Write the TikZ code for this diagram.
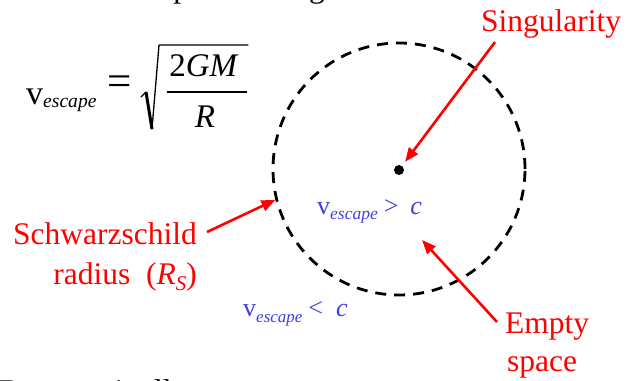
\documentclass[tikz,border=0pt]{standalone}
\usepackage{fix-cm}
\usepackage{fontspec}
\setmainfont{Liberation Serif}
\usetikzlibrary{arrows.meta}
\definecolor{lblred}{RGB}{255,0,0}
\definecolor{lblblue}{RGB}{64,64,224}
\newcommand{\setfs}[1]{\fontsize{#1}{#1}\selectfont}
\newcommand{\vescape}[3]{{\setfs{#1}v}\raisebox{-#3pt}{\setfs{#2}\itshape escape}}
\begin{document}
\begin{tikzpicture}[x=1pt,y=1pt,inner sep=0pt,
  redlbl/.style={text=lblred,font=\setfs{31.5}},
  bluelbl/.style={text=lblblue},
  plaintext/.style={text=black,font=\setfs{31.5}},
  redarrow/.style={draw=lblred,line width=2.6pt,-{Triangle[length=14pt,width=11pt]}},
  horizonline/.style={circle,draw=black,line width=2.8pt,dash pattern=on 11pt off 8pt},
  radline/.style={line width=1.3pt,line cap=round,line join=round}]
\useasboundingbox (0,0) rectangle (626,380);
\clip (0,0) rectangle (626,380);

% partial slide text, cut by the frame
\node[plaintext,anchor=base west] (toptext) at (105,382) {Collapse to a huge size};
\node[plaintext,anchor=base west] (bottomtext) at (-1,-21.5) {But now it all};

% formula
\node[anchor=base west] (vsym) at (26,275) {\vescape{34}{19.6}{3}};
\node[anchor=base west,font=\setfs{43}] (eqsign) at (107.5,284) {=};
\node[anchor=base,font=\setfs{33}] (numer) at (204,303) {2\textit{GM}};
\node[anchor=base,font=\setfs{33}] (denom) at (205,252) {\textit{R}};
\draw[line width=1.8pt] (167,288) -- (247,288);
\draw[radline] (141,283) -- (146,288);
\draw[line width=3pt,line join=round] (146,288) -- (152,251);
\draw[radline] (152,251) -- (159,335) -- (248,335);

% horizon and singularity
\node[horizonline,minimum size=252pt] (horizon) at (399,211) {};
\node[circle,fill=black,minimum size=10pt] (dot) at (399,210) {};

% labels
\node[redlbl,anchor=base] (sing) at (551,348) {Singularity};
\node[redlbl,anchor=base east] (schw) at (197,135) {Schwarzschild};
\node[redlbl,anchor=base east] (radius) at (197,95) {radius~~(\textit{R}\raisebox{-5pt}{\setfs{21}\itshape S})};
\node[redlbl,anchor=base west] (empty) at (505,46) {Empty};
\node[redlbl,anchor=base west] (space) at (507,9) {space};

\node[bluelbl,anchor=base west] (vin) at (317,165) {\vescape{26}{17.5}{5}\hspace{6pt}{\setfs{26}>}\hspace{12pt}{\setfs{26}\itshape c}};
\node[bluelbl,anchor=base west] (vout) at (243,63) {\vescape{26}{17}{5}\hspace{6pt}{\setfs{26}<}\hspace{13pt}{\setfs{26}\itshape c}};

% arrows
\coordinate (singtail) at (495,338);
\coordinate (schwtail) at (207,148);
\coordinate (emptytail) at (497,58);
\coordinate (emptytip) at (422,140);
\draw[redarrow,shorten >=5pt] (singtail) -- (dot);
\draw[redarrow] (schwtail) -- (horizon.194);
\draw[redarrow] (emptytail) -- (emptytip);
\end{tikzpicture}
\end{document}
